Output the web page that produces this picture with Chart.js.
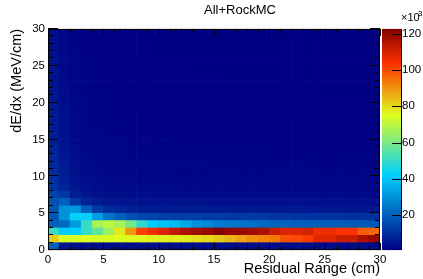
<!DOCTYPE html>
<html>
<head>
<meta charset="utf-8">
<script src="https://cdn.jsdelivr.net/npm/chart.js@4.4.0/dist/chart.umd.min.js"></script>
<style>
  html, body { margin: 0; padding: 0; background: #fff; }
  canvas { display: block; }
</style>
</head>
<body>
<canvas id="chartCanvas" width="423" height="279"></canvas>
<script>
// bin edges (cm, MeV/cm) and tick labels
const xEdges = [0,1,2,3,4,5,6,7,8,9,10,11,12,13,14,15,16,17,18,19,20,21,22,23,24,25,26,27,28,29,30];
const yEdges = [0,1,2,3,4,5,6,7,8,9,10,11,12,13,14,15,16,17,18,19,20,21,22,23,24,25,26,27,28,29,30];
const xTicks = [0, 5, 10, 15, 20, 25, 30];
const yTicks = [0, 5, 10, 15, 20, 25, 30];
const zTicks = [20, 40, 60, 80, 100, 120];
const zMin = 0.8, zMax = 122.6;

// bin contents (x10^3), one row per dE/dx bin starting at 0-1 MeV/cm, columns = residual range bins
const counts = [
  [20, 5, 4, 3.6, 3.5, 3.5, 3.5, 3.5, 3.5, 3.5, 3.5, 3.5, 3.4, 3.4, 3.4, 3.4, 3.4, 3.4, 3.4, 3.4, 3.3, 3.3, 3.3, 3.3, 3.3, 3.3, 3.3, 3.3, 3.3, 3.3],
  [82, 74, 74, 75, 74, 75, 75, 76, 76, 77, 77, 77.5, 78, 79.5, 81, 82.5, 85, 88, 90.5, 92, 93.5, 99, 100, 102, 108, 108, 111.5, 111.5, 116, 119],
  [50.5, 42, 42.5, 50.5, 56.5, 65.5, 78, 89, 101.5, 105.5, 108.5, 113, 116, 118, 119.5, 122.4, 119.5, 119.5, 118, 116, 111.5, 108.5, 108.5, 110, 105.5, 105.5, 103.5, 103.5, 97.5, 96],
  [20, 22, 32, 50.5, 67, 70, 67, 59.5, 49, 42, 40, 38, 34, 30, 28, 26, 25, 24, 23, 22, 21, 21, 20, 20, 20, 19.5, 19.5, 19, 18.5, 18.5],
  [18, 30, 43, 43, 32, 24, 20, 17, 15, 14, 13.5, 13, 13, 13, 12.5, 12.5, 12, 12, 12, 12, 11.5, 11.5, 11, 11, 11, 11, 11, 10.5, 10.5, 10.5],
  [18, 30, 31, 20, 12, 9, 8, 7, 6.5, 6.5, 6, 6, 6, 6, 6, 6, 5.8, 5.8, 5.8, 5.8, 5.6, 5.6, 5.6, 5.6, 5.5, 5.5, 5.5, 5.5, 5.4, 5.4],
  [17, 20, 12, 8, 6, 5, 5, 4.8, 4.6, 4.5, 4.4, 4.3, 4.2, 4.2, 4.1, 4.1, 4, 4, 4, 4, 4, 3.9, 3.9, 3.9, 3.9, 3.8, 3.8, 3.8, 3.8, 3.8],
  [14, 12, 7, 5, 4.2, 3.8, 3.6, 3.5, 3.4, 3.3, 3.2, 3.2, 3.1, 3.1, 3, 3, 3, 3, 3, 3, 2.9, 2.9, 2.9, 2.9, 2.9, 2.8, 2.8, 2.8, 2.8, 2.8],
  [11, 8, 5.5, 4, 3.4, 3, 2.9, 2.8, 2.7, 2.6, 2.6, 2.5, 2.5, 2.5, 2.4, 2.4, 2.4, 2.4, 2.4, 2.3, 2.3, 2.3, 2.3, 2.3, 2.3, 2.2, 2.2, 2.2, 2.2, 2.2],
  [10, 7, 4.6, 3.5, 3, 2.7, 2.5, 2.4, 2.3, 2.2, 2.2, 2.2, 2.1, 2.1, 2.1, 2.1, 2, 2, 2, 2, 2, 2, 2, 2, 1.9, 1.9, 1.9, 1.9, 1.9, 1.9],
  [9.5, 6.5, 4.2, 3.1, 2.7, 2.4, 2.2, 2.1, 2, 2, 1.9, 1.9, 1.9, 1.9, 1.8, 1.8, 1.8, 1.8, 1.8, 1.8, 1.8, 1.8, 1.7, 1.7, 1.7, 1.7, 1.7, 1.7, 1.7, 1.7],
  [9, 6, 3.8, 2.8, 2.4, 2.2, 2, 1.9, 1.8, 1.8, 1.7, 1.7, 1.7, 1.7, 1.7, 1.6, 1.6, 1.6, 1.6, 1.6, 1.6, 1.6, 1.6, 1.6, 1.5, 1.5, 1.5, 1.5, 1.5, 1.5],
  [8.5, 5.5, 3.4, 2.6, 2.2, 2, 1.8, 1.7, 1.7, 1.6, 1.6, 1.6, 1.5, 1.5, 1.5, 1.5, 1.5, 1.5, 1.5, 1.5, 1.4, 1.4, 1.4, 1.4, 1.4, 1.4, 1.4, 1.4, 1.4, 1.4],
  [8, 5.2, 3.2, 2.4, 2, 1.8, 1.7, 1.6, 1.5, 1.5, 1.5, 1.4, 1.4, 1.4, 1.4, 1.4, 1.4, 1.4, 1.4, 1.3, 1.3, 1.3, 1.3, 1.3, 1.3, 1.3, 1.3, 1.3, 1.3, 1.3],
  [7.5, 4.8, 3, 2.2, 1.9, 1.7, 1.6, 1.5, 1.4, 1.4, 1.4, 1.3, 1.3, 1.3, 1.3, 1.3, 1.3, 1.3, 1.3, 1.3, 1.2, 1.2, 1.2, 1.2, 1.2, 1.2, 1.2, 1.2, 1.2, 1.2],
  [7, 4.5, 2.8, 2.1, 1.8, 1.6, 1.5, 1.4, 1.4, 1.3, 1.3, 1.3, 1.2, 1.2, 1.2, 1.2, 1.2, 1.2, 1.2, 1.2, 1.2, 1.2, 1.2, 1.1, 1.1, 1.1, 1.1, 1.1, 1.1, 1.1],
  [6.6, 4.2, 2.6, 2.0, 1.7, 1.5, 1.4, 1.3, 1.3, 1.2, 1.2, 1.2, 1.2, 1.2, 1.1, 1.1, 1.1, 1.1, 1.1, 1.1, 1.1, 1.1, 1.1, 1.1, 1.1, 1.1, 1.0, 1.0, 1.0, 1.0],
  [6.3, 4.0, 2.5, 1.9, 1.6, 1.5, 1.4, 1.3, 1.2, 1.2, 1.2, 1.1, 1.1, 1.1, 1.1, 1.1, 1.1, 1.1, 1.1, 1.0, 1.0, 1.0, 1.0, 1.0, 1.0, 1.0, 1.0, 1.0, 1.0, 1.0],
  [6.0, 3.8, 2.4, 1.8, 1.6, 1.4, 1.3, 1.2, 1.2, 1.1, 1.1, 1.1, 1.1, 1.1, 1.1, 1.0, 1.0, 1.0, 1.0, 1.0, 1.0, 1.0, 1.0, 1.0, 1.0, 1.0, 1.0, 1.0, 1.0, 1.0],
  [5.7, 3.6, 2.3, 1.7, 1.5, 1.4, 1.3, 1.2, 1.1, 1.1, 1.1, 1.1, 1.0, 1.0, 1.0, 1.0, 1.0, 1.0, 1.0, 1.0, 1.0, 1.0, 1.0, 1.0, 1.0, 1.0, 1.0, 1.0, 1.0, 1.0],
  [5.4, 3.4, 2.2, 1.7, 1.5, 1.3, 1.2, 1.2, 1.1, 1.1, 1.0, 1.0, 1.0, 1.0, 1.0, 1.0, 1.0, 1.0, 1.0, 1.0, 1.0, 1.0, 1.0, 1.0, 1.0, 1.0, 1.0, 1.0, 0.9, 0.9],
  [5.1, 3.2, 2.1, 1.6, 1.4, 1.3, 1.2, 1.1, 1.1, 1.0, 1.0, 1.0, 1.0, 1.0, 1.0, 1.0, 1.0, 1.0, 1.0, 1.0, 1.0, 1.0, 1.0, 1.0, 0.9, 0.9, 0.9, 0.9, 0.9, 0.9],
  [4.8, 3.0, 2.0, 1.6, 1.4, 1.2, 1.1, 1.1, 1.0, 1.0, 1.0, 1.0, 1.0, 1.0, 1.0, 1.0, 1.0, 1.0, 1.0, 1.0, 0.9, 0.9, 0.9, 0.9, 0.9, 0.9, 0.9, 0.9, 0.9, 0.9],
  [4.6, 2.9, 1.9, 1.5, 1.3, 1.2, 1.1, 1.1, 1.0, 1.0, 1.0, 1.0, 1.0, 1.0, 1.0, 1.0, 0.9, 0.9, 0.9, 0.9, 0.9, 0.9, 0.9, 0.9, 0.9, 0.9, 0.9, 0.9, 0.9, 0.9],
  [4.4, 2.8, 1.8, 1.5, 1.3, 1.2, 1.1, 1.0, 1.0, 1.0, 1.0, 1.0, 1.0, 0.9, 0.9, 0.9, 0.9, 0.9, 0.9, 0.9, 0.9, 0.9, 0.9, 0.9, 0.9, 0.9, 0.9, 0.9, 0.9, 0.9],
  [4.2, 2.7, 1.8, 1.4, 1.3, 1.1, 1.1, 1.0, 1.0, 1.0, 1.0, 0.9, 0.9, 0.9, 0.9, 0.9, 0.9, 0.9, 0.9, 0.9, 0.9, 0.9, 0.9, 0.9, 0.9, 0.9, 0.9, 0.9, 0.9, 0.9],
  [4.0, 2.6, 1.7, 1.4, 1.2, 1.1, 1.0, 1.0, 1.0, 0.9, 0.9, 0.9, 0.9, 0.9, 0.9, 0.9, 0.9, 0.9, 0.9, 0.9, 0.9, 0.9, 0.9, 0.9, 0.9, 0.9, 0.9, 0.9, 0.9, 0.9],
  [3.8, 2.5, 1.7, 1.3, 1.2, 1.1, 1.0, 1.0, 0.9, 0.9, 0.9, 0.9, 0.9, 0.9, 0.9, 0.9, 0.9, 0.9, 0.9, 0.9, 0.9, 0.9, 0.9, 0.9, 0.9, 0.9, 0.9, 0.9, 0.9, 0.9],
  [3.7, 2.4, 1.6, 1.3, 1.2, 1.0, 1.0, 1.0, 0.9, 0.9, 0.9, 0.9, 0.9, 0.9, 0.9, 0.9, 0.9, 0.9, 0.9, 0.9, 0.9, 0.9, 0.9, 0.9, 0.9, 0.9, 0.9, 0.9, 0.9, 0.9],
  [3.5, 2.3, 1.6, 1.3, 1.1, 1.0, 1.0, 0.9, 0.9, 0.9, 0.9, 0.9, 0.9, 0.9, 0.9, 0.9, 0.9, 0.9, 0.9, 0.9, 0.9, 0.9, 0.9, 0.9, 0.9, 0.9, 0.9, 0.9, 0.9, 0.9]
];

// ROOT style rainbow palette
const paletteStops = [0.00, 0.34, 0.61, 0.84, 1.00];
const paletteRed   = [0.00, 0.00, 0.87, 1.00, 0.51];
const paletteGreen = [0.00, 0.81, 1.00, 0.20, 0.00];
const paletteBlue  = [0.51, 1.00, 0.12, 0.00, 0.00];

function paletteAt(t) {
  t = Math.max(0, Math.min(1, t));
  let i = 0;
  while (i < paletteStops.length - 2 && t > paletteStops[i + 1]) i++;
  const f = (t - paletteStops[i]) / (paletteStops[i + 1] - paletteStops[i]);
  const mix = a => Math.round(255 * (a[i] + (a[i + 1] - a[i]) * f));
  return 'rgb(' + mix(paletteRed) + ',' + mix(paletteGreen) + ',' + mix(paletteBlue) + ')';
}
const zColor = z => paletteAt((z - zMin) / (zMax - zMin));

const FONT = "'Liberation Sans', Arial, Helvetica, sans-serif";

const datasets = counts.map((row, r) => ({
  data: row.map((z, c) => ({ x: (xEdges[c] + xEdges[c + 1]) / 2, y: [yEdges[r], yEdges[r + 1]] })),
  backgroundColor: row.map(zColor),
  borderWidth: 0,
  barPercentage: 1,
  categoryPercentage: 1,
  grouped: false
}));

const rootFrame = {
  id: 'rootFrame',
  afterDatasetsDraw(chart) {
    const { ctx, chartArea: a, scales: { x, y, y2 } } = chart;
    ctx.save();
    ctx.strokeStyle = '#000';
    ctx.lineWidth = 1;
    ctx.beginPath();
    for (let v = xEdges[0]; v <= xEdges[xEdges.length - 1]; v++) {
      const px = Math.round(x.getPixelForValue(v)) + 0.5, len = v % 5 === 0 ? 7 : 3.5;
      ctx.moveTo(px, a.bottom); ctx.lineTo(px, a.bottom - len);
      ctx.moveTo(px, a.top); ctx.lineTo(px, a.top + len);
    }
    for (let v = yEdges[0]; v <= yEdges[yEdges.length - 1]; v++) {
      const py = Math.round(y.getPixelForValue(v)) - 0.5, len = v % 5 === 0 ? 10 : 5;
      ctx.moveTo(a.left, py); ctx.lineTo(a.left + len, py);
      ctx.moveTo(a.right, py); ctx.lineTo(a.right - len, py);
    }
    ctx.stroke();
    ctx.strokeRect(a.left + 0.5, a.top + 0.5, a.right - a.left - 1, a.bottom - a.top - 1);

    // colour palette
    const x0 = a.right + 2, x1 = a.right + 21;
    const pTop = y2.getPixelForValue(zMax), pBot = y2.getPixelForValue(zMin);
    const grad = ctx.createLinearGradient(0, pBot, 0, pTop);
    paletteStops.forEach(s => grad.addColorStop(s, paletteAt(s)));
    ctx.fillStyle = grad;
    ctx.fillRect(x0, pTop, x1 - x0, pBot - pTop);
    ctx.beginPath();
    ctx.moveTo(x1 + 0.5, pTop); ctx.lineTo(x1 + 0.5, pBot);
    zTicks.forEach(v => {
      const py = Math.round(y2.getPixelForValue(v)) + 0.5;
      ctx.moveTo(x1 - 9, py); ctx.lineTo(x1 + 0.5, py);
    });
    ctx.stroke();

    // title and exponent
    ctx.fillStyle = '#000';
    ctx.textBaseline = 'middle';
    ctx.textAlign = 'center';
    ctx.font = '13px ' + FONT;
    ctx.fillText('All+RockMC', 240, 10);
    ctx.textAlign = 'left';
    ctx.font = '11px ' + FONT;
    ctx.fillText('\u00d710', 401, 18);
    ctx.font = '8px ' + FONT;
    ctx.fillText('3', 418, 14);
    ctx.restore();
  }
};

const tickFont = { family: FONT, size: 11.5 };
const titleFont = { family: FONT, size: 14.5 };

new Chart(document.getElementById('chartCanvas').getContext('2d'), {
  type: 'bar',
  data: { datasets: datasets },
  options: {
    responsive: false,
    animation: false,
    events: [],
    layout: { padding: { top: 24, left: 0, right: 0, bottom: 0 } },
    plugins: { legend: { display: false }, tooltip: { enabled: false } },
    scales: {
      x: {
        type: 'linear', min: 0, max: 30, offset: false,
        afterBuildTicks: s => { s.ticks = xTicks.map(v => ({ value: v })); },
        afterFit: s => { s.height = 28; },
        grid: { display: false, drawTicks: false },
        border: { display: false },
        ticks: { font: tickFont, color: '#000', padding: 3, maxRotation: 0, autoSkip: false },
        title: { display: true, text: 'Residual Range (cm)', align: 'end', color: '#000', font: titleFont, padding: { top: 0, bottom: 0 } }
      },
      y: {
        type: 'linear', min: 0, max: 30,
        afterBuildTicks: s => { s.ticks = yTicks.map(v => ({ value: v })); },
        afterFit: s => { s.width = 48; },
        grid: { display: false, drawTicks: false },
        border: { display: false },
        ticks: { font: tickFont, color: '#000', padding: 3 },
        title: { display: true, text: 'dE/dx (MeV/cm)', align: 'end', color: '#000', font: titleFont, padding: { top: 8, bottom: 0 } }
      },
      y2: {
        type: 'linear', position: 'right', min: zMin, max: zMax,
        afterBuildTicks: s => { s.ticks = zTicks.map(v => ({ value: v })); },
        afterFit: s => { s.width = 43; },
        grid: { display: false, drawTicks: false },
        border: { display: false },
        ticks: { font: tickFont, color: '#000', padding: 22 }
      }
    }
  },
  plugins: [rootFrame]
});
</script>
</body>
</html>
